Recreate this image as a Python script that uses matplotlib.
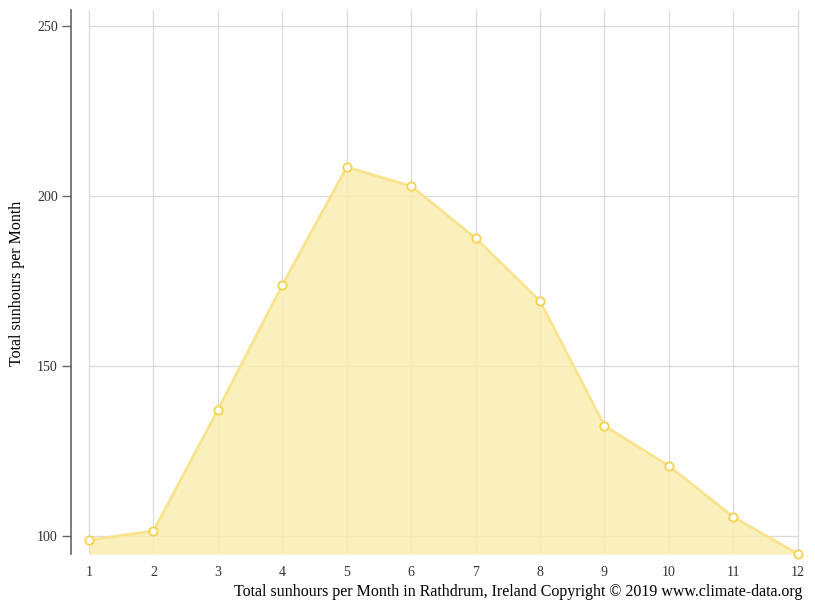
import matplotlib
matplotlib.use("Agg")
import matplotlib.pyplot as plt

plt.rcParams["font.family"] = ["Liberation Serif", "DejaVu Serif"]

# ── Datos ─────────────────────────────────────────────
months = [1, 2, 3, 4, 5, 6, 7, 8, 9, 10, 11, 12]
sunhours = [98.8, 101.5, 137.1, 173.8, 208.5, 202.9, 187.6, 169.1, 132.4, 120.6, 105.6, 94.7]
y_ticks = [100, 150, 200, 250]

FILL = "#f9eeb0"
LINE = "#fae38f"
MARKER_EDGE = "#f6d250"
GRID = "#d9d9d9"
TEXT = "#333333"

fig = plt.figure(figsize=(8.15, 6.11), dpi=100)
ax = fig.add_axes([71 / 815, 1 - 554 / 611, (801 - 71) / 815, (554 - 10) / 611])

y_min, y_max = 94.7, 254.7
ax.set_xlim(0.72, 12.05)
ax.set_ylim(y_min, y_max)

# rejilla
ax.vlines(months, y_min, y_max, color=GRID, linewidth=0.9, zorder=0)
ax.hlines(y_ticks, months[0], months[-1], color=GRID, linewidth=0.9, zorder=0)

# área
ax.fill_between(months, sunhours, y_min, color=FILL, alpha=0.85, linewidth=0, zorder=1)
ax.plot(months, sunhours, color=LINE, linewidth=2, zorder=2)
ax.plot(months, sunhours, linestyle="none", marker="o", markersize=6,
        markerfacecolor="white", markeredgecolor=MARKER_EDGE, markeredgewidth=1.3,
        zorder=3, clip_on=False)

# ejes
ax.set_yticks(y_ticks)
ax.set_xticks(months)
ax.tick_params(axis="y", length=6.5, width=1, color="#666666", labelsize=10,
               labelcolor=TEXT, pad=3)
ax.tick_params(axis="x", length=0, labelsize=10, labelcolor=TEXT, pad=9)
for s in ["top", "right", "bottom"]:
    ax.spines[s].set_visible(False)
ax.spines["left"].set_color("#666666")
ax.spines["left"].set_linewidth(1.2)

fig.text(17.5 / 815, 1 - 283 / 611, "Total sunhours per Month", rotation=90,
         ha="center", va="center", fontsize=11.5, color="black")
fig.text(802 / 815, 1 - 592 / 611,
         "Total sunhours per Month in Rathdrum, Ireland Copyright \u00a9 2019 www.climate-data.org",
         ha="right", va="center", fontsize=11.5, color="black")

fig.savefig("out.png", dpi=100)
